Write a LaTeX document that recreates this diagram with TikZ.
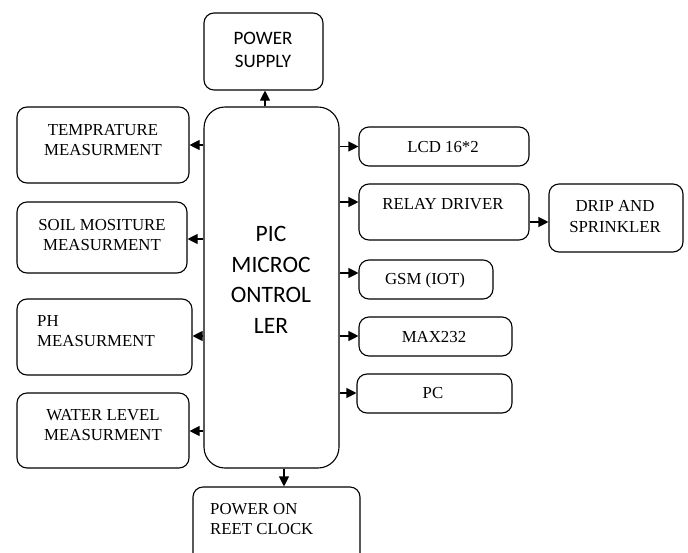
\documentclass[tikz,border=0pt]{standalone}
\usepackage{fontspec}
\setmainfont{Liberation Serif}
\newfontfamily\calfont{Carlito}
\usetikzlibrary{arrows.meta}
\begin{document}
\begin{tikzpicture}[x=1pt,y=-1pt,
  box/.style={draw, line width=1.1pt, rounded corners=10pt, inner sep=0pt},
  bigbox/.style={draw, line width=1.1pt, rounded corners=21pt, inner sep=0pt},
  txt/.style={inner sep=0pt, align=center, font=\fontsize{16.8}{20.5}\selectfont},
  ltxt/.style={inner sep=0pt, align=left, anchor=west, font=\fontsize{16.8}{20.5}\selectfont},
  stxt/.style={inner sep=0pt, align=center},
  arr/.style={line width=1.1pt, -{Triangle[length=10pt,width=10pt]}}]
\useasboundingbox (0,0) rectangle (688,552);
\begin{scope}
\clip (0,0) rectangle (688,552);
% boxes
\node[box, minimum width=119pt, minimum height=77pt] (ps) at (263.5,51.5) {};
\node[bigbox, minimum width=135pt, minimum height=361pt] (pic) at (271.5,287.5) {};
\node[box, minimum width=172pt, minimum height=76pt] (temp) at (103,145) {};
\node[box, minimum width=170pt, minimum height=71pt] (soil) at (102,237.5) {};
\node[box, minimum width=175pt, minimum height=76pt] (ph) at (104.5,337) {};
\node[box, minimum width=172pt, minimum height=75pt] (water) at (103,430.5) {};
\node[box, minimum width=167pt, minimum height=83pt] (pon) at (276.5,528.5) {};
\node[box, minimum width=170pt, minimum height=39pt] (lcd) at (444,146.5) {};
\node[box, minimum width=170pt, minimum height=56pt] (relay) at (444,212) {};
\node[box, minimum width=134pt, minimum height=68pt] (drip) at (616,218) {};
\node[box, minimum width=134pt, minimum height=39pt] (gsm) at (426,279.5) {};
\node[box, minimum width=153pt, minimum height=39pt] (max) at (435.5,336.5) {};
\node[box, minimum width=155pt, minimum height=39pt] (pc) at (434.5,393.5) {};
\end{scope}
% texts
\node[stxt, font=\calfont\fontsize{19}{23}\selectfont] (pst) at (263,49.5) {POWER\\SUPPLY};
\node[stxt, font=\calfont\fontsize{23.5}{30.5}\selectfont] (pict) at (271,280) {PIC\\MICROC\\ONTROL\\LER};
\node[txt] (tempt) at (103,140) {TEMPRATURE\\MEASURMENT};
\node[txt] (soilt) at (102,235) {SOIL MOSITURE\\MEASURMENT};
\node[ltxt] (pht) at (37,331) {PH\\MEASURMENT};
\node[txt] (watert) at (103,425) {WATER LEVEL\\MEASURMENT};
\node[ltxt] (pont) at (210,519) {POWER ON\\REET CLOCK};
\node[txt] (lcdt) at (443,147) {LCD 16*2};
\node[txt] (relayt) at (443,204) {RELAY DRIVER};
\node[txt] (dript) at (615,216.5) {DRIP AND\\SPRINKLER};
\node[txt] (gsmt) at (425,280) {GSM (IOT)};
\node[txt] (maxt) at (434,337) {MAX232};
\node[txt] (pct) at (433,393) {PC};
% connectors
\draw[arr] (pic.north -| 265,0) -- (ps.south -| 265,0);
\draw[arr] (pic.south -| 284,0) -- (pon.north -| 284,0);
\draw[arr] (pic.west |- temp.east) -- (temp.east);
\draw[arr] (pic.west |- 0,239) -- (soil.east |- 0,239);
\draw[arr] (pic.west |- 0,336) -- (ph.east |- 0,336);
\draw[arr] (pic.west |- 0,431) -- (water.east |- 0,431);
\draw[arr] (pic.east |- lcd.west) -- (lcd.west);
\draw[arr] (pic.east |- 0,202) -- (relay.west |- 0,202);
\draw[arr] (pic.east |- 0,273) -- (gsm.west |- 0,273);
\draw[arr] (pic.east |- 0,336) -- (max.west |- 0,336);
\draw[arr] (pic.east |- 0,393) -- (pc.west |- 0,393);
\draw[arr] (relay.east |- 0,222) -- (drip.west |- 0,222);
\end{tikzpicture}
\end{document}
